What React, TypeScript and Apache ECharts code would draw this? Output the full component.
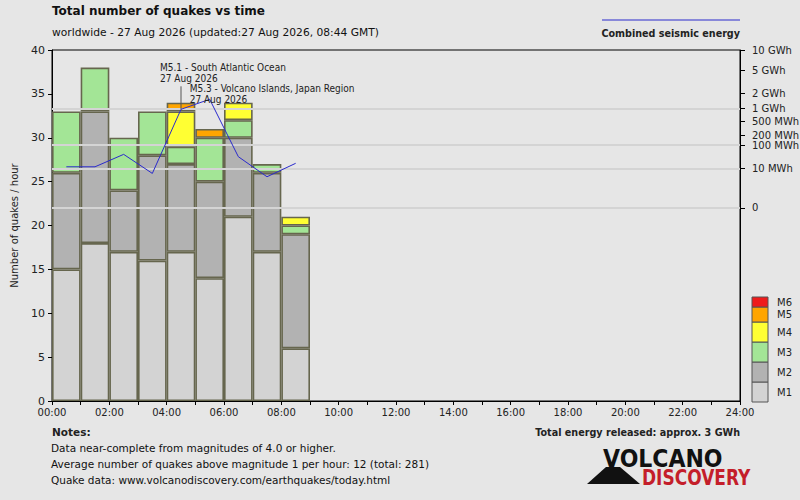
import React, { useEffect, useRef } from "react";
import * as echarts from "echarts";

const hourSlots = ["00", "01", "02", "03", "04", "05", "06", "07", "08", "09", "10", "11", "12", "13", "14", "15", "16", "17", "18", "19", "20", "21", "22", "23"];
const magnitudes = ["M1", "M2", "M3", "M4", "M5", "M6"];
const magColors = ["#d3d3d3", "#b2b2b2", "#a3e596", "#ffff33", "#ffa500", "#ee1b1b"];
const countsM1 = [15, 18, 17, 16, 17, 14, 21, 17, 6];
const countsM2 = [11, 15, 7, 12, 10, 11, 9, 9, 13];
const countsM3 = [7, 5, 6, 5, 2, 5, 2, 1, 1];
const countsM4 = [0, 0, 0, 0, 4, 0, 2, 0, 1];
const countsM5 = [0, 0, 0, 0, 1, 1, 0, 0, 0];
const countsM6 = [0, 0, 0, 0, 0, 0, 0, 0, 0];
const allCounts = [countsM1, countsM2, countsM3, countsM4, countsM5, countsM6];
// energy per hour in MWh
const energyMWh = [12, 12, 45, 5, 950, 1540, 36, 3, 18];
const energyTickMWh = [10000, 5000, 2000, 1000, 500, 200, 100, 10, 0];
const energyTickLabels = ["10 GWh", "5 GWh", "2 GWh", "1 GWh", "500 MWh", "200 MWh", "100 MWh", "10 MWh", "0"];
const energyGridMWh = [1000, 100, 10, 0];
const annotations = [
  { hour: 4, lines: ["M5.1 - South Atlantic Ocean", "27 Aug 2026"], dx: -21, dy: -47, pointer: true },
  { hour: 5, lines: ["M5.3 - Volcano Islands, Japan Region", "27 Aug 2026"], dx: -20, dy: -16, pointer: false },
];
const xTickLabels = ["00:00", "02:00", "04:00", "06:00", "08:00", "10:00", "12:00", "14:00", "16:00", "18:00", "20:00", "22:00", "24:00"];

const E_MAX = 10000;
const toAxis = (e: number) => 22 + 18 * Math.pow(e / E_MAX, 0.2);

const GRID = { left: 52, right: 60, top: 50, bottom: 99 };
const W = 800, H = 500;
const FONT = "DejaVu Sans";
const NARROW = "DejaVu Sans Condensed, DejaVu Sans";

export default function App() {
  const ref = useRef<HTMLDivElement>(null);
  useEffect(() => {
    if (!ref.current) return;
    const chart = echarts.init(ref.current, undefined, { renderer: "svg" });

    const barSeries = magnitudes.map((m, i) => ({
      name: m,
      type: "bar",
      stack: "q",
      xAxisIndex: 1,
      yAxisIndex: 0,
      barWidth: "100%",
      z: 2,
      itemStyle: { color: magColors[i], borderColor: "#66664e", borderWidth: 1.6 },
      data: hourSlots.map((_, j) => {
        const c = allCounts[i][j];
        return c && c > 0 ? c : "-";
      }),
    }));

    const tickPos = energyTickMWh.map(toAxis);

    const legendX = 752, legendBottom = 402;
    const legendHeights = [20, 20, 20, 20, 15, 10];
    const legendGraphics: any[] = [];
    let yCur = legendBottom;
    magnitudes.forEach((m, i) => {
      const hgt = legendHeights[i];
      yCur -= hgt;
      legendGraphics.push({
        type: "rect",
        shape: { x: legendX, y: yCur, width: 16, height: hgt },
        style: { fill: magColors[i], stroke: "#555", lineWidth: 1 },
      });
      legendGraphics.push({
        type: "text",
        x: 777,
        y: yCur + hgt / 2,
        style: { text: m, font: `10px ${FONT}`, fill: "#222", verticalAlign: "middle" },
      });
    });

    const option: any = {
      animation: false,
      backgroundColor: "#e6e6e6",
      grid: { ...GRID, outerBoundsMode: "none", containLabel: false, show: true, borderColor: "#000", borderWidth: 1, backgroundColor: "transparent" },
      xAxis: [
        {
          type: "value",
          min: 0,
          max: 24,
          interval: 2,
          axisLine: { lineStyle: { color: "#000", width: 1 } },
          axisTick: { show: true, length: 4, lineStyle: { color: "#000" } },
          minorTick: { show: true, splitNumber: 2, length: 4, lineStyle: { color: "#000" } },
          axisLabel: {
            color: "#222",
            fontFamily: FONT,
            fontSize: 10,
            margin: 6,
            formatter: (v: number) => xTickLabels[Math.round(v / 2)] ?? "",
          },
          splitLine: { show: false },
          z: 6,
        },
        {
          type: "category",
          data: hourSlots,
          boundaryGap: true,
          show: false,
        },
      ],
      yAxis: [
        {
          type: "value",
          min: 0,
          max: 40,
          interval: 5,
          name: "Number of quakes / hour",
          nameLocation: "middle",
          nameGap: 33,
          nameTextStyle: { fontFamily: FONT, fontSize: 10, color: "#222" },
          axisLine: { show: true, lineStyle: { color: "#000" } },
          axisTick: { show: true, length: 4, lineStyle: { color: "#000" } },
          axisLabel: { color: "#222", fontFamily: FONT, fontSize: 11, margin: 7 },
          splitLine: { show: false },
        },
        {
          type: "value",
          min: 0,
          max: 40,
          position: "right",
          axisLine: { show: true, lineStyle: { color: "#000" } },
          axisTick: { show: true, inside: false, length: 5, customValues: tickPos, lineStyle: { color: "#000" } },
          axisLabel: {
            customValues: tickPos,
            color: "#222",
            fontFamily: FONT,
            fontSize: 10,
            margin: 12,
            formatter: (v: number) => {
              let best = 0, bd = Infinity;
              tickPos.forEach((p, k) => {
                const d = Math.abs(p - v);
                if (d < bd) { bd = d; best = k; }
              });
              return energyTickLabels[best];
            },
          },
          splitLine: { show: false },
        },
      ],
      series: [
        {
          name: "grid",
          type: "line",
          xAxisIndex: 0,
          yAxisIndex: 1,
          data: [],
          z: 1,
          silent: true,
          markLine: {
            silent: true,
            symbol: "none",
            label: { show: false },
            lineStyle: { color: "#d4d4d4", width: 2, type: "solid" },
            data: energyGridMWh.map((e) => ({ yAxis: toAxis(e) })),
          },
        },
        ...barSeries,
        {
          name: "Combined seismic energy",
          type: "line",
          xAxisIndex: 0,
          yAxisIndex: 1,
          z: 5,
          showSymbol: false,
          symbol: "none",
          lineStyle: { color: "#2a2acc", width: 1 },
          data: energyMWh.map((e, j) => [j + 0.5, toAxis(e)]),
        },
      ],
      graphic: [
        { type: "text", left: 52, top: 5, style: { text: "Total number of quakes vs time", font: `bold 12px ${FONT}`, fill: "#111" } },
        { type: "text", left: 52, top: 27, style: { text: "worldwide - 27 Aug 2026 (updated:27 Aug 2026, 08:44 GMT)", font: `10.7px ${FONT}`, fill: "#111" } },
        { type: "line", shape: { x1: 602, y1: 20, x2: 740, y2: 20 }, style: { stroke: "#2a2acc", lineWidth: 1 } },
        { type: "text", x: 740, y: 33, style: { text: "Combined seismic energy", font: `bold 9.6px ${FONT}`, fill: "#222", align: "right", verticalAlign: "middle" } },
        ...legendGraphics,
        { type: "text", x: 52, y: 432, style: { text: "Notes:", font: `bold 10.5px ${FONT}`, fill: "#222", verticalAlign: "middle" } },
        { type: "text", x: 51, y: 448, style: { text: "Data near-complete from magnitudes of 4.0 or higher.", font: `10.5px ${FONT}`, fill: "#111", verticalAlign: "middle" } },
        { type: "text", x: 51, y: 464, style: { text: "Average number of quakes above magnitude 1 per hour: 12 (total: 281)", font: `10.5px ${FONT}`, fill: "#111", verticalAlign: "middle" } },
        { type: "text", x: 51, y: 480, style: { text: "Quake data: www.volcanodiscovery.com/earthquakes/today.html", font: `10.5px ${FONT}`, fill: "#111", verticalAlign: "middle" } },
        { type: "text", x: 740, y: 432, style: { text: "Total energy released: approx. 3 GWh", font: `bold 10.7px ${NARROW}`, fill: "#222", align: "right", verticalAlign: "middle" } },
        { type: "text", x: 603, y: 459, scaleX: 0.88, style: { text: "VOLCANO", font: `bold 25px ${FONT}`, fill: "#111", verticalAlign: "middle" } },
        { type: "polygon", shape: { points: [[587, 484], [640, 484], [620, 467], [606, 467]] }, style: { fill: "#111" } },
        { type: "text", x: 642, y: 477.5, scaleX: 0.83, style: { text: "DISCOVERY", font: `bold 20.5px ${FONT}`, fill: "#c41e2a", verticalAlign: "middle" } },
      ],
    };
    chart.setOption(option);

    const annGraphics: any[] = [];
    annotations.forEach((a) => {
      const p = chart.convertToPixel({ xAxisIndex: 0, yAxisIndex: 1 }, [a.hour + 0.5, toAxis(energyMWh[a.hour])]) as number[];
      const tx = p[0] + a.dx, ty = p[1] + a.dy;
      annGraphics.push({
        type: "text",
        x: tx,
        y: ty,
        z: 10,
        style: { text: a.lines.join("\n"), font: `10px ${NARROW}`, fill: "#222", lineHeight: 11 },
      });
      if (a.pointer) {
        annGraphics.push({
          type: "line",
          z: 10,
          shape: { x1: p[0], y1: ty + 24, x2: p[0], y2: p[1] },
          style: { stroke: "#555", lineWidth: 1 },
        });
      }
    });
    chart.setOption({ graphic: [...(option.graphic as any[]), ...annGraphics] });

    return () => chart.dispose();
  }, []);
  return <div ref={ref} style={{ width: W, height: H, position: "absolute", left: 0, top: 0 }} />;
}
